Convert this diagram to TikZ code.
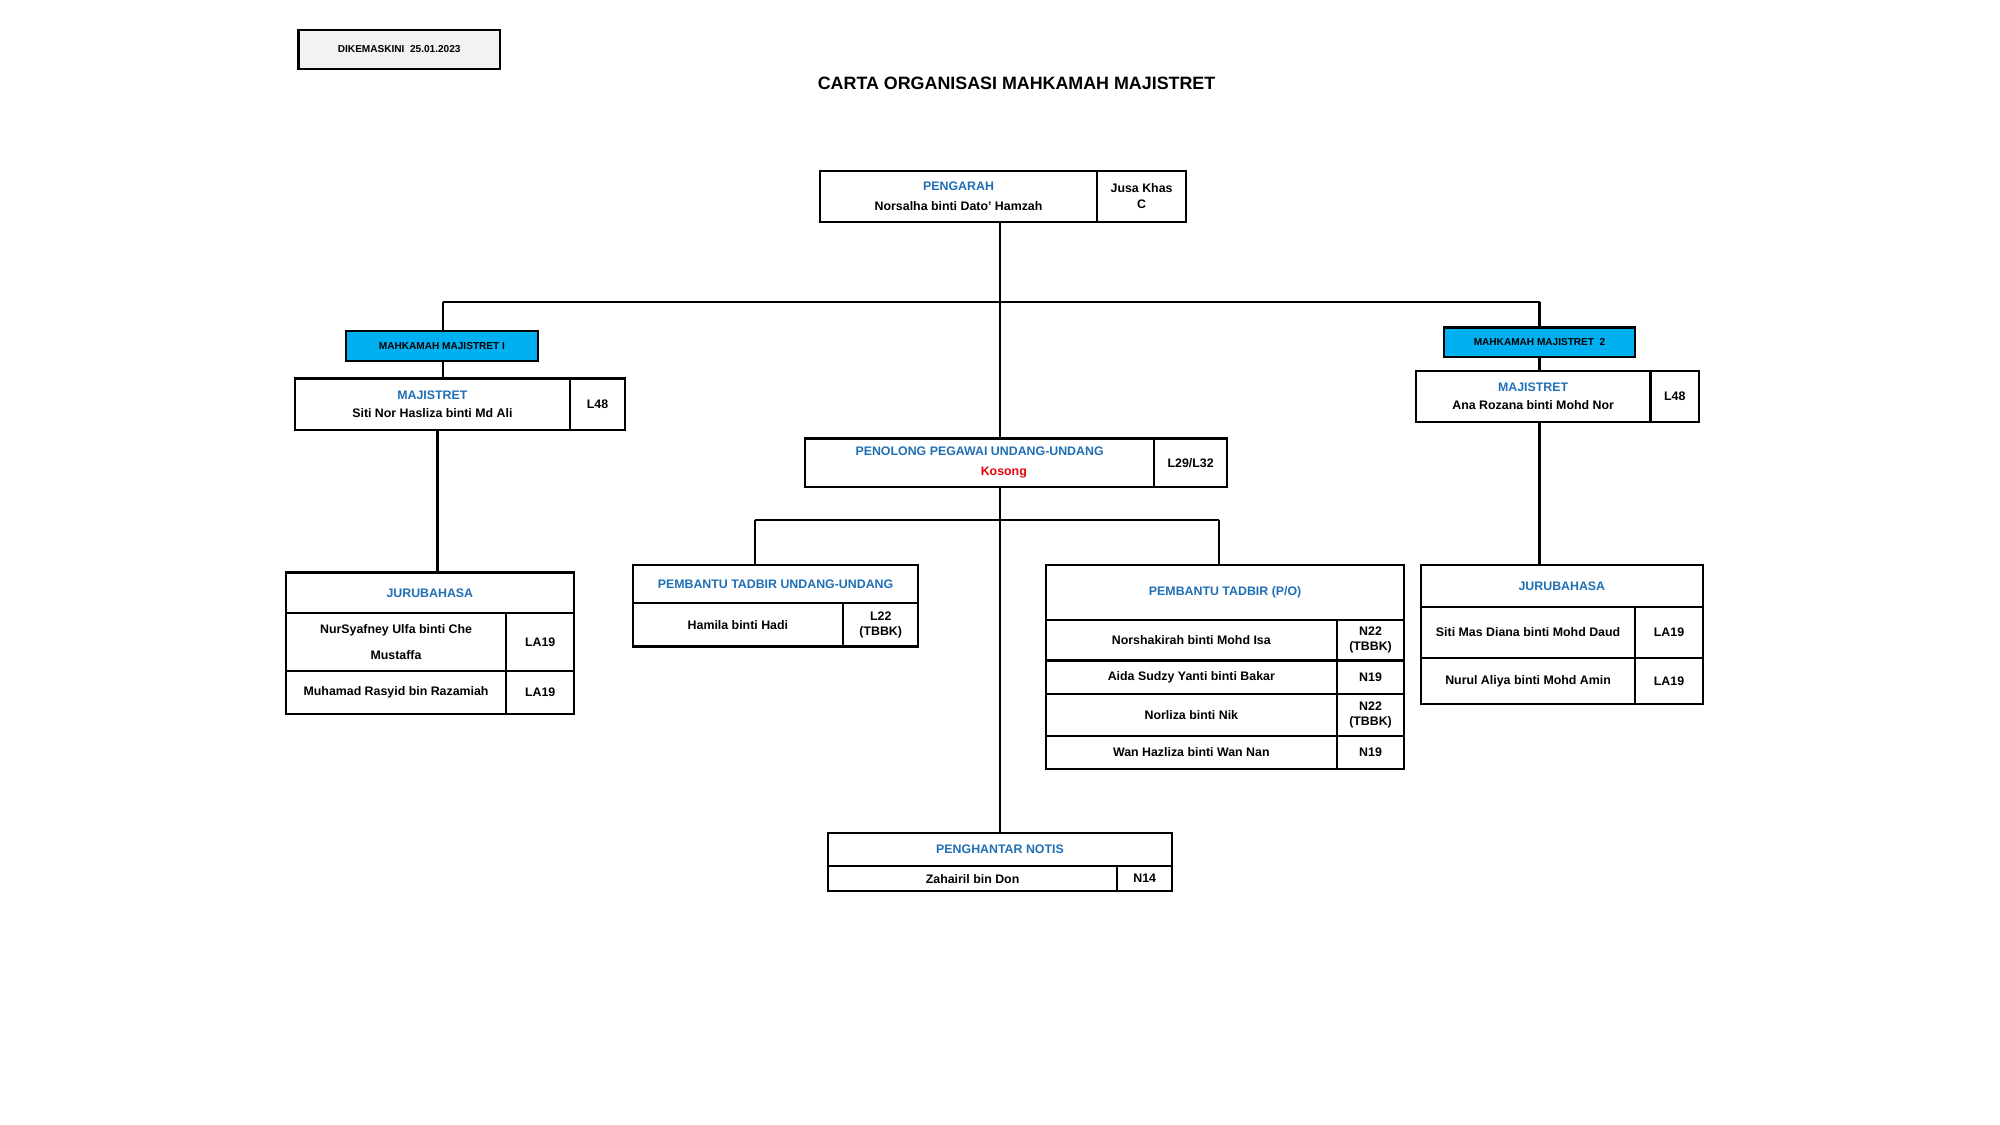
\documentclass[tikz,border=0pt]{standalone}
\usepackage{fontspec}
\setmainfont{Liberation Sans}
\usetikzlibrary{calc}
\definecolor{hdblue}{HTML}{1F6FB5}
\definecolor{cyanfill}{HTML}{00B0F0}
\definecolor{kred}{HTML}{E8000B}
\definecolor{grayfill}{HTML}{F2F2F2}
\tikzset{
  cellst/.style={draw, line width=1.7pt, inner sep=0pt, align=center, font=\bfseries\fontsize{9.7}{14}\selectfont},
  smallfont/.style={font=\bfseries\fontsize{7.9}{9}\selectfont},
  tight/.style={font=\bfseries\fontsize{9.7}{12}\selectfont},
  conn/.style={draw, line width=1.7pt},
}
\newcommand\cellbox[7][]{%
  \node[cellst,#1,minimum width={(#5-#3)*1pt},minimum height={(#6-#4)*1pt}] (#2) at ({(#3+#5)/2},{(#4+#6)/2+0.8}) {#7};}
\begin{document}
\begin{tikzpicture}[x=1pt,y=-1pt]
\useasboundingbox (0,0) rectangle (1568,882);
% header
\cellbox[fill=grayfill,smallfont]{upd}{234}{23}{392}{53}{DIKEMASKINI\ \ 25.01.2023}
\node[font=\bfseries\fontsize{14}{16}\selectfont] (title) at (797,65) {CARTA ORGANISASI MAHKAMAH MAJISTRET};
% pengarah
\cellbox[font=\bfseries\fontsize{9.7}{16}\selectfont]{pengL}{643}{133}{860}{173}{\textcolor{hdblue}{PENGARAH}\\Norsalha binti Dato' Hamzah}
\cellbox[tight]{pengR}{860}{133}{930}{173}{Jusa Khas\\C}
% left branch
\cellbox[fill=cyanfill,smallfont]{mm1}{271}{259}{422}{282}{MAHKAMAH MAJISTRET I}
\cellbox{maj1}{231}{296}{447}{336}{\textcolor{hdblue}{MAJISTRET}\\Siti Nor Hasliza binti Md Ali}
\cellbox{maj1g}{447}{296}{490}{336}{L48}
\cellbox{juru1}{224}{448}{450}{480}{\textcolor{hdblue}{JURUBAHASA}}
\cellbox[font=\bfseries\fontsize{9.7}{20}\selectfont]{juru1a}{224}{480}{397}{525}{NurSyafney Ulfa binti Che\\Mustaffa}
\cellbox{juru1ag}{397}{480}{450}{525}{LA19}
\cellbox{juru1b}{224}{525}{397}{559}{Muhamad Rasyid bin Razamiah}
\cellbox{juru1bg}{397}{525}{450}{559}{LA19}
% right branch
\cellbox[fill=cyanfill,smallfont]{mm2}{1132}{256}{1282}{279}{MAHKAMAH MAJISTRET\ \ 2}
\cellbox{maj2}{1110}{290}{1294}{330}{\textcolor{hdblue}{MAJISTRET}\\Ana Rozana binti Mohd Nor}
\cellbox{maj2g}{1294}{290}{1332}{330}{L48}
\cellbox{juru2}{1114}{442}{1335}{475}{\textcolor{hdblue}{JURUBAHASA}}
\cellbox{juru2a}{1114}{475}{1282}{515}{Siti Mas Diana binti Mohd Daud}
\cellbox{juru2ag}{1282}{475}{1335}{515}{LA19}
\cellbox{juru2b}{1114}{515}{1282}{551}{Nurul Aliya binti Mohd Amin}
\cellbox{juru2bg}{1282}{515}{1335}{551}{LA19}
% penolong
\cellbox[font=\bfseries\fontsize{9.7}{16}\selectfont]{peno}{631}{343}{905}{381}{\textcolor{hdblue}{PENOLONG PEGAWAI UNDANG-UNDANG}\\\hspace*{38pt}\textcolor{kred}{Kosong}}
\cellbox{penog}{905}{343}{962}{381}{L29/L32}
% pembantu tadbir undang-undang
\cellbox{ptu}{496}{442}{720}{472}{\textcolor{hdblue}{PEMBANTU TADBIR UNDANG-UNDANG}}
\cellbox{ptua}{496}{472}{661}{506}{Hamila binti Hadi}
\cellbox[tight]{ptuag}{661}{472}{720}{506}{L22\\(TBBK)}
% pembantu tadbir P/O
\cellbox{ptpo}{820}{442}{1101}{485}{\textcolor{hdblue}{PEMBANTU TADBIR (P/O)}}
\cellbox{ptpoa}{820}{485}{1048}{517}{Norshakirah binti Mohd Isa}
\cellbox[tight]{ptpoag}{1048}{485}{1101}{517}{N22\\(TBBK)}
\cellbox{ptpob}{820}{517}{1048}{543}{Aida Sudzy Yanti binti Bakar}
\cellbox{ptpobg}{1048}{517}{1101}{543}{N19}
\cellbox{ptpoc}{820}{543}{1048}{576}{Norliza binti Nik}
\cellbox[tight]{ptpocg}{1048}{543}{1101}{576}{N22\\(TBBK)}
\cellbox{ptpod}{820}{576}{1048}{602}{Wan Hazliza binti Wan Nan}
\cellbox{ptpodg}{1048}{576}{1101}{602}{N19}
% penghantar notis
\cellbox{pn}{649}{652}{919}{678}{\textcolor{hdblue}{PENGHANTAR NOTIS}}
\cellbox{pna}{649}{678}{876}{698}{Zahairil bin Don}
\cellbox{pnag}{876}{678}{919}{698}{N14}
% junctions
\coordinate (j1) at (784,237);
\coordinate (j1l) at (347,237);
\coordinate (j1r) at (1207,237);
\coordinate (xl) at (343,0);
\coordinate (j2) at (784,408);
\coordinate (j2l) at (592,408);
\coordinate (j2r) at (956,408);
% connectors
\draw[conn] (pengL.south -| j1) -- (peno.north -| j1);
\draw[conn] (j1l) -- (j1r);
\draw[conn] (j1l) -- (mm1.north -| j1l);
\draw[conn] (mm1.south -| j1l) -- (maj1.north -| j1l);
\draw[conn] (maj1.south -| xl) -- (juru1.north -| xl);
\draw[conn] (j1r) -- (mm2.north -| j1r);
\draw[conn] (mm2.south -| j1r) -- (maj2.north -| j1r);
\draw[conn] (maj2.south -| j1r) -- (juru2.north -| j1r);
\draw[conn] (peno.south -| j2) -- (pn.north -| j2);
\draw[conn] (j2l) -- (j2r);
\draw[conn] (j2l) -- (ptu.north -| j2l);
\draw[conn] (j2r) -- (ptpo.north -| j2r);
\end{tikzpicture}
\end{document}
